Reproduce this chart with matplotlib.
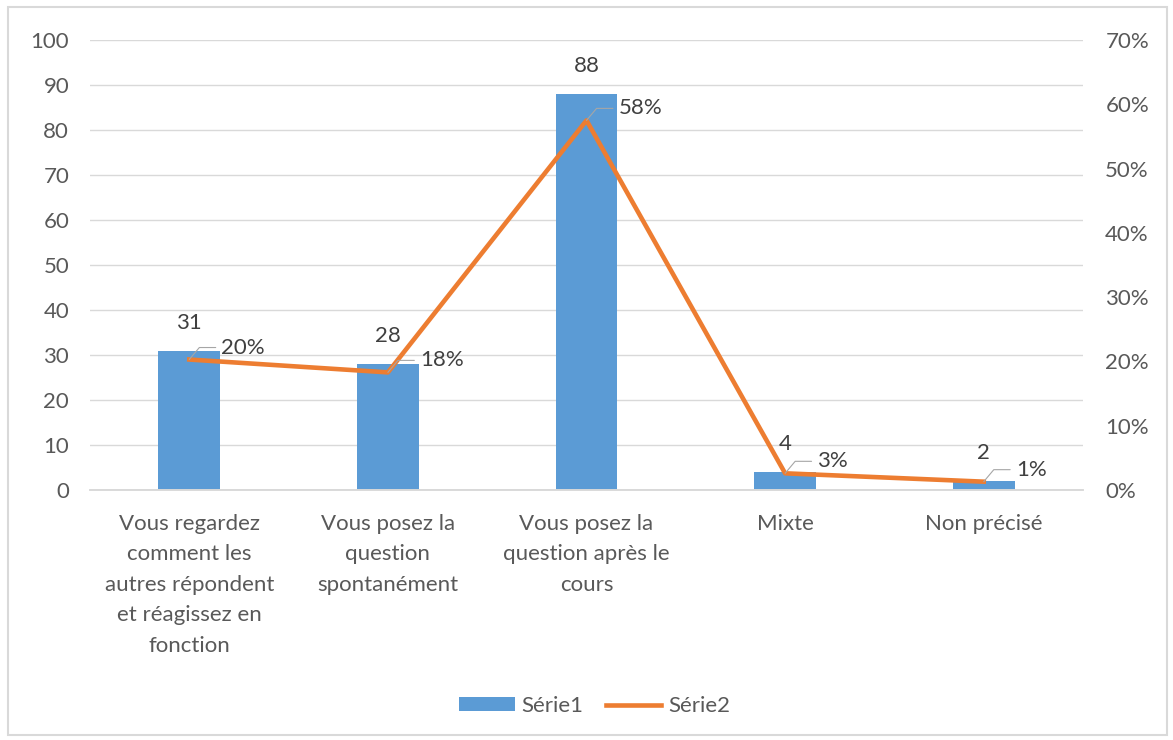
import matplotlib.pyplot as plt
from matplotlib.patches import Rectangle
import numpy as np

categories = [
    "Vous regardez\ncomment les\nautres répondent\net réagissez en\nfonction",
    "Vous posez la\nquestion\nspontanément",
    "Vous posez la\nquestion après le\ncours",
    "Mixte",
    "Non précisé",
]
serie1 = [31, 28, 88, 4, 2]
serie2 = [20.3, 18.3, 57.5, 2.6, 1.3]   # percent
serie2_labels = ["20%", "18%", "58%", "3%", "1%"]

plt.rcParams['font.family'] = ['Lato', 'DejaVu Sans']
txt = '#595959'
fs = 16

fig = plt.figure(figsize=(11.73, 7.4), dpi=100)
ax = fig.add_axes([0.0767, 0.3378, 0.8466, 0.6081])
ax2 = ax.twinx()

x = np.arange(len(categories))
ax.bar(x, serie1, width=0.31, color='#5B9BD5', label='Série1', zorder=2)
ax2.plot(x, serie2, color='#ED7D31', lw=3.3, label='Série2', zorder=3)

ax.set_xlim(-0.5, len(categories) - 0.5)
ax.set_ylim(0, 100)
ax.set_yticks(range(0, 101, 10))
ax2.set_ylim(0, 70)
ax2.set_yticks(range(0, 71, 10))
ax2.set_yticklabels([f"{v}%" for v in range(0, 71, 10)])

ax.grid(axis='y', color='#d9d9d9', lw=1, zorder=0)
ax.set_axisbelow(True)
for a in (ax, ax2):
    for s in ('top', 'left', 'right'):
        a.spines[s].set_visible(False)
    a.spines['bottom'].set_color('#d9d9d9')
    a.spines['bottom'].set_linewidth(1.2)
    a.tick_params(length=0, colors=txt, labelsize=fs)
ax.tick_params(axis='y', pad=15)
ax2.tick_params(axis='y', pad=16)
ax.set_xticks(x)
ax.set_xticklabels(categories, linespacing=1.66, fontsize=fs, color=txt,
                   va='top')
ax.tick_params(axis='x', pad=17)

# bar value labels
for xi, v in zip(x, serie1):
    ax.annotate(str(v), (xi, v), xytext=(0, 28), textcoords='offset pixels',
                ha='center', va='center', fontsize=fs, color='#404040')

# percent labels with leader lines
for xi, v, lab in zip(x, serie2, serie2_labels):
    ax2.annotate(lab, (xi, v), xytext=(32, 12), textcoords='offset pixels',
                 ha='left', va='center', fontsize=fs, color='#404040',
                 arrowprops=dict(arrowstyle='-', color='#a6a6a6', lw=0.8,
                                 connectionstyle='angle,angleA=0,angleB=50,rad=0',
                                 relpos=(0, 0.5), shrinkA=2, shrinkB=0))

h1, l1 = ax.get_legend_handles_labels()
h2, l2 = ax2.get_legend_handles_labels()
fig.legend(h1 + h2, l1 + l2, loc='center', bbox_to_anchor=(0.507, 0.046),
           ncol=2, frameon=False, fontsize=fs, labelcolor=txt,
           handlelength=2.5, handleheight=0.6, columnspacing=1.0,
           handletextpad=0.3)

fig.patches.append(Rectangle((0.007, 0.007), 0.988, 0.983,
                             transform=fig.transFigure, fill=False,
                             edgecolor='#d9d9d9', lw=1.5))

fig.savefig('out.png', dpi=100, facecolor='white')
